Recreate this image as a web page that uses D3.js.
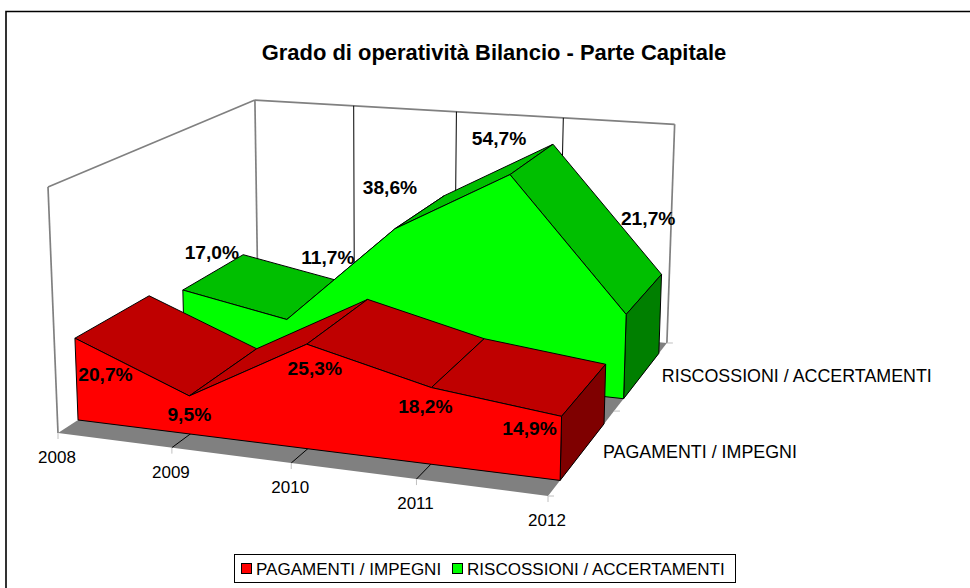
<!DOCTYPE html>
<html><head><meta charset="utf-8">
<script src="https://cdn.jsdelivr.net/npm/d3@7/dist/d3.min.js"></script>
<style>html,body{margin:0;padding:0;background:#fff}svg{display:block}text{font-family:"Liberation Sans",Arial,sans-serif;fill:#000}</style>
</head><body><svg id="c" width="970" height="588"></svg>
<script>
const title = "Grado di operatività Bilancio - Parte Capitale";
const years = ["2008","2009","2010","2011","2012"];
const seriesNames = ["PAGAMENTI / IMPEGNI","RISCOSSIONI / ACCERTAMENTI"];
const pagamenti = [20.7,9.5,25.3,18.2,14.9];
const riscossioni = [17.0,11.7,38.6,54.7,21.7];
const seriesValues = [pagamenti,riscossioni];
const frontColors = ["#ff0000","#00ff00"];
const topColors = ["#bf0000","#00bf00"];
const sideColors = ["#7f0000","#007f00"];
const labelOffsets = [
  [[30.5,35.5],[0,18],[8,24],[-6,18],[-32,12]],
  [[29,-38],[41,-62],[-5,-42],[-11,-36],[22,-96]]
];

const svg = d3.select("#c");
const fmt = v => v.toFixed(1).replace(".",",")+"%";

// scales into the unit cube
const sx = d3.scalePoint().domain(years).range([0,1]);
const sy = d3.scaleLinear().domain([0,60]).range([0,1]);
const sz = d3.scaleBand().domain(seriesNames).range([0,1]).paddingInner(1/3).paddingOuter(1/6);

// perspective camera: images of the cube origin and its three axis ends, plus depth weights
const cam = {o:[58,433],x:[548,496],y:[48,187],z:[258,303],a:-0.0916,b:-0.03,c:0.225};
function proj(X,Y,Z){
  const w = 1+cam.a*X+cam.b*Y+cam.c*Z;
  const f = i => (cam.o[i]
    +(cam.x[i]*(1+cam.a)-cam.o[i])*X
    +(cam.y[i]*(1+cam.b)-cam.o[i])*Y
    +(cam.z[i]*(1+cam.c)-cam.o[i])*Z)/w;
  return [f(0),f(1)];
}
const poly = pts => "M"+pts.map(p=>p.map(v=>v.toFixed(2)).join(",")).join("L")+"Z";
const seg = (g,a,b,col,w) => g.append("line").attr("x1",a[0]).attr("y1",a[1]).attr("x2",b[0]).attr("y2",b[1]).attr("stroke",col).attr("stroke-width",w);

// frame: only the top and left edges fall inside the picture
svg.append("path").attr("d","M970,11.5H6V588").attr("fill","none").attr("stroke","#000").attr("stroke-width",1.6);
svg.append("text").attr("x",494).attr("y",60).attr("text-anchor","middle").attr("font-weight","bold").attr("font-size",21.95).text(title);

const g = svg.append("g");
// floor
g.append("path").attr("d",poly([proj(0,0,0),proj(1,0,0),proj(1,0,1),proj(0,0,1)])).attr("fill","#808080").attr("stroke","none");
// walls outline
[[[0,1,0],[0,1,1]],[[0,1,1],[1,1,1]],[[1,1,1],[1,0,1]],[[0,1,0],[0,0,0]],[[0,1,1],[0,0,1]]].forEach(([a,b])=>
  seg(g,proj(...a),proj(...b),"#808080",1.7));
// gridlines on back wall and floor
years.slice(1,-1).forEach(d=>{
  const X=sx(d);
  seg(g,proj(X,1,1),proj(X,0,1),"#000",1);
  seg(g,proj(X,0,1),proj(X,0,0),"#000",1);
});
// category ticks
years.forEach(d=>{
  const p=proj(sx(d),0,0);
  seg(g,p,[p[0],p[1]+6],"#c0c0c0",1);
  g.append("text").attr("x",p[0]-1).attr("y",p[1]+30).attr("text-anchor","middle").attr("font-size",17).text(d);
});
// depth ticks
[0,0.5,1].forEach(Z=>{
  const p=proj(1,0,Z);
  seg(g,p,[p[0]+6,p[1]],"#c0c0c0",1);
});
// depth labels
seriesNames.forEach(s=>{
  const p=proj(1,0,sz(s)+sz.bandwidth()/2);
  g.append("text").attr("x",p[0]+20).attr("y",p[1]+6.5).attr("font-size",17.85).text(s);
});
// areas, back series first
[1,0].forEach(i=>{
  const vals=seriesValues[i], s=seriesNames[i], z0=sz(s), z1=z0+sz.bandwidth();
  const G=g.append("g");
  const xs=years.map(sx);
  // top faces
  vals.slice(0,-1).forEach((v,k)=>{
    G.append("path").attr("d",poly([proj(xs[k],sy(v),z0),proj(xs[k+1],sy(vals[k+1]),z0),proj(xs[k+1],sy(vals[k+1]),z1),proj(xs[k],sy(v),z1)]))
      .attr("fill",topColors[i]).attr("stroke","#000").attr("stroke-width",1).attr("stroke-linejoin","round");
  });
  // end face
  const last=vals[vals.length-1];
  G.append("path").attr("d",poly([proj(1,0,z0),proj(1,sy(last),z0),proj(1,sy(last),z1),proj(1,0,z1)]))
    .attr("fill",sideColors[i]).attr("stroke","#000").attr("stroke-width",1).attr("stroke-linejoin","round");
  // front face
  const front=[proj(0,0,z0)].concat(vals.map((v,k)=>proj(xs[k],sy(v),z0))).concat([proj(1,0,z0)]);
  G.append("path").attr("d",poly(front)).attr("fill",frontColors[i]).attr("stroke","#000").attr("stroke-width",1).attr("stroke-linejoin","round");
});
// data labels
[1,0].forEach(i=>{
  seriesValues[i].forEach((v,k)=>{
    const p=proj(sx(years[k]),sy(v),sz(seriesNames[i]));
    const o=labelOffsets[i][k];
    g.append("text").attr("x",p[0]+o[0]).attr("y",p[1]+o[1]).attr("dy","0.36em").attr("text-anchor","middle")
     .attr("font-weight","bold").attr("font-size",19.2).text(fmt(v));
  });
});
// legend
const L=svg.append("g");
L.append("rect").attr("x",234.5).attr("y",554.5).attr("width",501).attr("height",28).attr("fill","#fff").attr("stroke","#000").attr("stroke-width",1);
const legendX=[241,452];
seriesNames.forEach((s,i)=>{
  L.append("rect").attr("x",legendX[i]+0.5).attr("y",563.5).attr("width",10).attr("height",10).attr("fill",frontColors[i]).attr("stroke","#000");
  L.append("text").attr("x",legendX[i]+15).attr("y",575).attr("font-size",17.05).text(s);
});
</script></body></html>
